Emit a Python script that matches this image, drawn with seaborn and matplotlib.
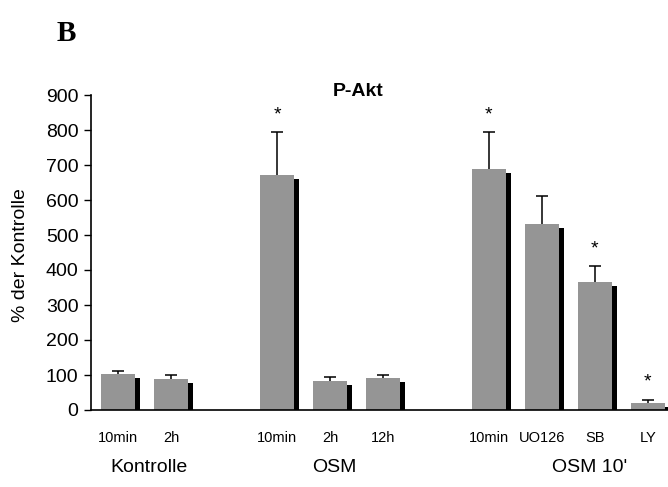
import matplotlib
matplotlib.use("Agg")
import matplotlib.pyplot as plt
import matplotlib.transforms as mtransforms
import numpy as np
import seaborn as sns

# ---- data ----
groups = ["Kontrolle", "OSM", "OSM 10'"]
group_sizes = [2, 3, 4]
tick_labels = ["10min", "2h", "10min", "2h", "12h", "10min", "UO126", "SB", "LY"]
values = [103, 88, 671, 83, 91, 689, 531, 366, 20]
errors = [8, 12, 123, 11, 9, 105, 80, 45, 9]
significant = [False, False, True, False, False, True, False, True, True]
title = "P-Akt"
ylabel = "% der Kontrolle"
panel = "B"
yticks = [0, 100, 200, 300, 400, 500, 600, 700, 800, 900]

# ---- layout ----
sns.set_theme(style="white")
plt.rcParams["font.family"] = ["Liberation Sans", "DejaVu Sans"]

W, H = 668, 487
fig = plt.figure(figsize=(W / 100, H / 100), dpi=100)
ax = fig.add_axes([91 / W, (H - 410) / H, (W - 91) / W, (410 - 95) / H])

# positions with a gap of one slot between groups
pos = []
start = 0
for n in group_sizes:
    pos.extend(range(start, start + n))
    start += n + 1
pos = np.array(pos, dtype=float)
vals = np.array(values, dtype=float)
errs = np.array(errors, dtype=float)

bar_w = 0.64
dx = 0.094
drop = 11

# shadow bars
ax.bar(pos + dx, vals - drop, width=bar_w, color="black", linewidth=0, zorder=1)
# main bars
sns.barplot(x=pos, y=vals, native_scale=True, width=bar_w, color="#959595",
            saturation=1, errorbar=None, linewidth=0, zorder=2, ax=ax)

# upper error bars
ax.vlines(pos, vals, vals + errs, color="black", lw=1.1, zorder=3)
ax.hlines(vals + errs, pos - 0.115, pos + 0.115, color="black", lw=1.1, zorder=3)

# significance stars
for p, v, e, s in zip(pos, vals, errs, significant):
    if s:
        ax.text(p, v + e + 50, "*", ha="center", va="center", fontsize=14,
                color="black")

ax.set_xlim(-0.51, 10.38)
ax.set_ylim(0, 900)
ax.set_yticks(yticks)
ax.set_yticklabels([str(t) for t in yticks], fontsize=14)
ax.tick_params(axis="y", which="both", direction="out", length=5, width=1,
               color="black", pad=4, left=True)
ax.set_xticks(pos)
ax.set_xticklabels(tick_labels, fontsize=10.5)
ax.tick_params(axis="x", length=0, pad=15)
for lab in ax.get_xticklabels():
    lab.set_color("black")
for lab in ax.get_yticklabels():
    lab.set_color("black")

for side in ["top", "right"]:
    ax.spines[side].set_visible(False)
for side in ["left", "bottom"]:
    ax.spines[side].set_color("black")
    ax.spines[side].set_linewidth(1.2)
ax.set_xlabel("")
ax.set_ylabel("")

# group labels
trans = mtransforms.blended_transform_factory(ax.transData, fig.transFigure)
group_x = [0.585, 4.09, 8.9]
for gx, g in zip(group_x, groups):
    ax.text(gx, 1 - 467 / H, g, transform=trans, ha="center", va="center",
            fontsize=14, color="black")

fig.text(21 / W, 1 - 255 / H, ylabel, rotation=90, ha="center", va="center",
         fontsize=14, color="black")
fig.text(358 / W, 1 - 92 / H, title, ha="center", va="center", fontsize=14,
         fontweight="bold", color="black")
fig.text(66 / W, 1 - 33 / H, panel, ha="center", va="center", fontsize=21,
         fontweight="bold", family=["Liberation Serif", "DejaVu Serif"],
         color="black")

fig.savefig("out.png", dpi=100, facecolor="white")
